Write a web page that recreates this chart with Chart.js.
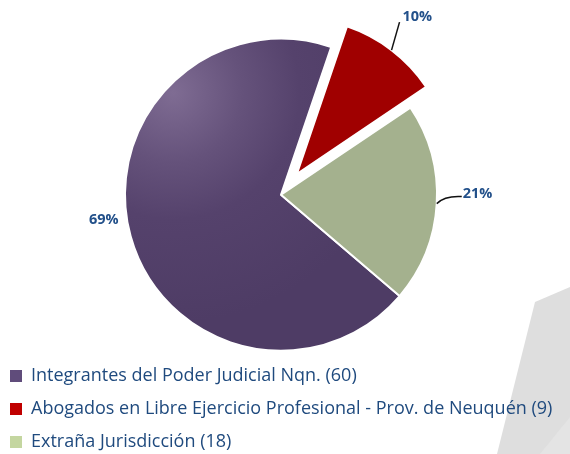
<!DOCTYPE html>
<html><head><meta charset="utf-8">
<script src="https://cdn.jsdelivr.net/npm/chart.js@4.4.0/dist/chart.umd.min.js"></script>
<style>html,body{margin:0;padding:0;background:#fff;overflow:hidden}#wrap{width:570px;height:454px;position:relative}</style>
</head><body><div id="wrap"><canvas id="c" width="570" height="454"></canvas></div>
<script>
// ---- data ----
const categories = [
  'Integrantes del Poder Judicial Nqn. (60)',
  'Abogados en Libre Ejercicio Profesional - Prov. de Neuquén (9)',
  'Extraña Jurisdicción (18)'
];
const counts = [60, 9, 18];
const percentLabels = ['69%', '10%', '21%'];

// ---- styles ----
const sliceColors = ['#54426B', '#A00000', '#A4B18E'];
const legendColors = ['#604C7B', '#C00000', '#C4D6A0'];
const explode = [0, 26, 0];
const textBlue = '#1F4A7E';
const labelBlue = '#22508A';
const labelStyle = [
  {dx: -12, dy: -16, align: 'right', leader: false, tx: 0, ty: 0},
  {dx: 8, dy: -28, align: 'left', leader: true, tx: 3, ty: -5, curve: false},
  {dx: 25, dy: -7, align: 'left', leader: true, tx: 1, ty: -3, curve: true}
];

function purpleGradient(chart) {
  const a = chart.chartArea;
  const ctx = chart.ctx;
  if (!a) return sliceColors[0];
  const cx = (a.left + a.right) / 2, cy = (a.top + a.bottom) / 2;
  const g = ctx.createRadialGradient(cx - 108, cy - 102, 0, cx - 108, cy - 102, 230);
  g.addColorStop(0, '#7F6C93');
  g.addColorStop(0.3, '#65527B');
  g.addColorStop(0.55, '#55426C');
  g.addColorStop(1, '#4E3C65');
  return g;
}

const bgPlugin = {
  id: 'bgShape',
  beforeDraw(chart) {
    const ctx = chart.ctx;
    ctx.save();
    ctx.fillStyle = '#fff';
    ctx.fillRect(0, 0, chart.width, chart.height);
    ctx.fillStyle = '#DEDEDE';
    ctx.beginPath();
    ctx.moveTo(535, 302); ctx.lineTo(570, 287); ctx.lineTo(570, 454); ctx.lineTo(497, 454);
    ctx.closePath(); ctx.fill();
    ctx.fillStyle = '#E4E4E4';
    ctx.beginPath();
    ctx.moveTo(570, 417); ctx.lineTo(570, 454); ctx.lineTo(540, 454);
    ctx.closePath(); ctx.fill();
    ctx.restore();
  }
};

const explodePlugin = {
  id: 'explode',
  afterDatasetsUpdate(chart) {
    const meta = chart.getDatasetMeta(0);
    meta.data.forEach((arc, i) => {
      const d = explode[i];
      if (!d) return;
      const mid = (arc.startAngle + arc.endAngle) / 2;
      arc.x += Math.cos(mid) * d;
      arc.y += Math.sin(mid) * d;
    });
  }
};

const labelPlugin = {
  id: 'pctLabels',
  afterDatasetsDraw(chart) {
    const ctx = chart.ctx;
    const meta = chart.getDatasetMeta(0);
    ctx.save();
    ctx.font = 'bold 14.5px "Open Sans", sans-serif';
    ctx.fillStyle = labelBlue;
    ctx.textBaseline = 'middle';
    meta.data.forEach((arc, i) => {
      const s = labelStyle[i];
      const mid = (arc.startAngle + arc.endAngle) / 2;
      const ex = arc.x + Math.cos(mid) * arc.outerRadius;
      const ey = arc.y + Math.sin(mid) * arc.outerRadius;
      const lx = ex + s.dx, ly = ey + s.dy;
      if (s.leader) {
        ctx.strokeStyle = '#111';
        ctx.lineWidth = 1.5;
        ctx.beginPath();
        ctx.moveTo(ex, ey);
        if (s.curve) ctx.quadraticCurveTo(ex + 8, ly - 1, lx, ly);
        else ctx.lineTo(lx, ly);
        ctx.stroke();
      }
      ctx.textAlign = s.align;
      ctx.fillText(percentLabels[i], lx + s.tx, ly + s.ty);
    });
    ctx.restore();
  }
};

new Chart(document.getElementById('c'), {
  type: 'pie',
  data: {
    labels: categories,
    datasets: [{
      data: counts,
      backgroundColor: (c) => c.dataIndex === 0 ? purpleGradient(c.chart) : sliceColors[c.dataIndex],
      borderColor: '#ffffff',
      borderWidth: 2,
      hoverOffset: 0
    }]
  },
  options: {
    responsive: false,
    animation: false,
    rotation: 130.5,
    radius: 156,
    layout: {padding: {left: -5, right: 8, top: 37.5, bottom: -7}},
    plugins: {
      tooltip: {enabled: false},
      legend: {
        position: 'bottom',
        align: 'start',
        labels: {
          boxWidth: 12,
          boxHeight: 12,
          padding: 15,
          color: textBlue,
          font: {family: '"Open Sans"', size: 18},
          generateLabels(chart) {
            return chart.data.labels.map((t, i) => ({
              text: t, fillStyle: legendColors[i], strokeStyle: legendColors[i],
              lineWidth: 0, fontColor: textBlue, hidden: false, index: i
            }));
          }
        }
      }
    }
  },
  plugins: [bgPlugin, explodePlugin, labelPlugin]
});
</script></body></html>
